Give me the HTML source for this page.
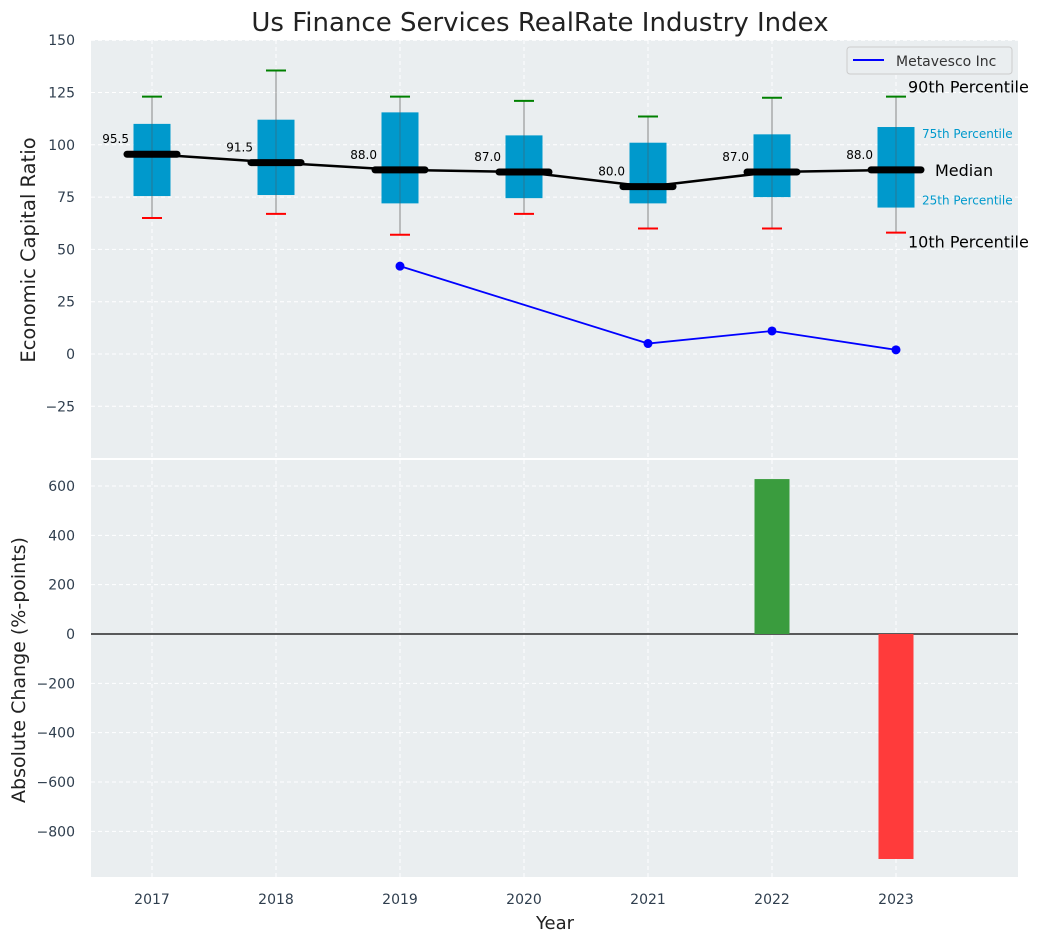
<!DOCTYPE html>
<html><head><meta charset="utf-8"><style>
body{margin:0;background:#fff;}
svg{display:block;font-family:"DejaVu Sans","Liberation Sans",sans-serif;}
</style></head><body>
<svg id="c" width="1044" height="942" viewBox="0 0 1044 942"></svg>
<script>
const years=[2017,2018,2019,2020,2021,2022,2023];
const p10=[65,67,57,67,60,60,58];
const q1=[75.5,76,72,74.5,72,75,70];
const med=[95.5,91.5,88,87,80,87,88];
const q3=[110,112,115.5,104.5,101,105,108.5];
const p90=[123,135.5,123,121,113.5,122.5,123];
const coYears=[2019,2021,2022,2023];
const coVals=[42,5,11,2];
const chgYears=[2022,2023];
const chgVals=[628,-912];
const yTicksTop=[150,125,100,75,50,25,0,-25];
const yTicksBot=[600,400,200,0,-200,-400,-600,-800];

const NS="http://www.w3.org/2000/svg";
const svg=document.getElementById('c');
function el(t,a,txt,parent){const e=document.createElementNS(NS,t);for(const k in a)e.setAttribute(k,a[k]);if(txt!==undefined)e.textContent=txt;(parent||svg).appendChild(e);return e;}
const L=91,R=1018;
const x=v=>152+(v-2017)*124;
const yT=v=>354-v*2.092;
const yB=v=>634-v*0.2467;
const minus=v=>String(v).replace('-','\u2212');

let e=el('rect',{x:L,y:40,width:R-L,height:418,fill:'#eaeef0'});

e=el('rect',{x:L,y:460,width:R-L,height:417,fill:'#eaeef0'});


years.forEach(yr=>{
 el('line',{x1:x(yr),x2:x(yr),y1:40,y2:458,stroke:'#fff','stroke-dasharray':'4,3'});
 el('line',{x1:x(yr),x2:x(yr),y1:460,y2:877,stroke:'#fff','stroke-dasharray':'4,3'});
 e=el('text',{x:x(yr),y:904,'text-anchor':'middle','font-size':14,fill:'#2f3e4e'},yr);
 
});
yTicksTop.forEach(v=>{
 el('line',{x1:L,x2:R,y1:yT(v),y2:yT(v),stroke:'#fff','stroke-dasharray':'4,3'});
 e=el('text',{x:75,y:yT(v)+5,'text-anchor':'end','font-size':14,fill:'#2f3e4e'},minus(v));
 
});
yTicksBot.forEach(v=>{
 el('line',{x1:L,x2:R,y1:yB(v),y2:yB(v),stroke:'#fff','stroke-dasharray':'4,3'});
 e=el('text',{x:75,y:yB(v)+5,'text-anchor':'end','font-size':14,fill:'#2f3e4e'},minus(v));
 
});

years.forEach((yr,i)=>{
 const cx=x(yr);
 el('line',{x1:cx,x2:cx,y1:yT(p90[i]),y2:yT(p10[i]),stroke:'#888','stroke-width':1});
 e=el('rect',{x:cx-18.5,y:yT(q3[i]),width:37,height:yT(q1[i])-yT(q3[i]),fill:'#0099cc'});
 
 el('line',{x1:cx,x2:cx,y1:yT(q3[i]),y2:yT(q1[i]),stroke:'#555','stroke-width':0.8,opacity:0.6});
 el('line',{x1:cx-10,x2:cx+10,y1:yT(p90[i]),y2:yT(p90[i]),stroke:'green','stroke-width':2});
 el('line',{x1:cx-10,x2:cx+10,y1:yT(p10[i]),y2:yT(p10[i]),stroke:'red','stroke-width':2});
});
e=el('polyline',{points:years.map((yr,i)=>x(yr)+','+yT(med[i])).join(' '),fill:'none',stroke:'#000','stroke-width':2.5});

years.forEach((yr,i)=>{
 const cx=x(yr);
 e=el('line',{x1:cx-25,x2:cx+25,y1:yT(med[i]),y2:yT(med[i]),stroke:'#000','stroke-width':7,'stroke-linecap':'round'});
 
 e=el('text',{x:cx-23,y:yT(med[i])-11,'text-anchor':'end','font-size':12,fill:'#000'},med[i].toFixed(1));
 
});
e=el('polyline',{points:coYears.map((yr,i)=>x(yr)+','+yT(coVals[i])).join(' '),fill:'none',stroke:'#0000ff','stroke-width':1.8});

coYears.forEach((yr,i)=>{
 e=el('circle',{cx:x(yr),cy:yT(coVals[i]),r:4.5,fill:'#0000ff'});
 
});
const lx=x(2023);
[['90th Percentile',lx+12,yT(p90[6])-4,16,'#000'],['75th Percentile',lx+26,yT(q3[6])+11,12,'#0099cc'],['Median',lx+39,yT(med[6])+6,16,'#000'],['25th Percentile',lx+26,yT(q1[6])-3,12,'#0099cc'],['10th Percentile',lx+12,yT(p10[6])+15,16,'#000']].forEach(a=>{
 e=el('text',{x:a[1],y:a[2],'font-size':a[3],fill:a[4]},a[0]);
 
});
const lg=el('g',{});

el('rect',{x:847,y:47,width:165,height:27,rx:3,fill:'#eaeef0',stroke:'#ccc'},undefined,lg);
el('line',{x1:853,x2:884,y1:60,y2:60,stroke:'#0000ff','stroke-width':2},undefined,lg);
el('text',{x:896,y:66,'font-size':14,fill:'#333'},'Metavesco Inc',lg);

el('line',{x1:L,x2:R,y1:yB(0),y2:yB(0),stroke:'#000','stroke-width':1.2});
chgYears.forEach((yr,i)=>{
 const v=chgVals[i];
 e=el('rect',{x:x(yr)-17.5,y:Math.min(yB(v),yB(0)),width:35,height:Math.abs(yB(v)-yB(0)),fill:v>=0?'#3a9c3e':'#ff3b3b'});
 
});

e=el('text',{x:540,y:31,'text-anchor':'middle','font-size':26,fill:'#222'},'Us Finance Services RealRate Industry Index');

e=el('text',{x:555,y:929,'text-anchor':'middle','font-size':18,fill:'#222'},'Year');

e=el('text',{x:35,y:250,'text-anchor':'middle','font-size':19.5,fill:'#222',transform:'rotate(-90 35 250)'},'Economic Capital Ratio');

e=el('text',{x:25,y:670,'text-anchor':'middle','font-size':19,fill:'#222',transform:'rotate(-90 25 670)'},'Absolute Change (%-points)');

</script>
</body></html>
